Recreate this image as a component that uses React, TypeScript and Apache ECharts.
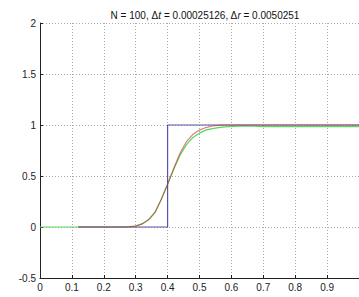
import React, { useEffect, useRef } from "react";
import * as echarts from "echarts";

const titleParts = ["N = 100, Δ", "t", " = 0.00025126, Δ", "r", " = 0.0050251"];
const xTicks = [0, 0.1, 0.2, 0.3, 0.4, 0.5, 0.6, 0.7, 0.8, 0.9, 1];
const yTicks = [-0.5, 0, 0.5, 1, 1.5, 2];

const exactX = [0.12, 0.4, 0.4, 1.0];
const exactY = [0, 0, 1, 1];

const redX = [0.12, 0.25, 0.28, 0.3, 0.32, 0.34, 0.36, 0.38, 0.4, 0.42, 0.44, 0.46, 0.48, 0.5, 0.52, 0.54, 0.56, 0.58, 0.6, 1.0];
const redY = [0, 0, 0.002, 0.008, 0.03, 0.07, 0.14, 0.27, 0.42, 0.58, 0.73, 0.84, 0.91, 0.95, 0.975, 0.99, 0.997, 1, 1, 1];

const greenX = [0, 0.25, 0.28, 0.3, 0.32, 0.34, 0.36, 0.38, 0.4, 0.42, 0.44, 0.46, 0.48, 0.5, 0.52, 0.54, 0.56, 0.58, 0.62, 0.66, 0.7, 1.0];
const greenY = [0, 0, 0.003, 0.01, 0.03, 0.07, 0.14, 0.27, 0.42, 0.57, 0.71, 0.81, 0.88, 0.92, 0.95, 0.965, 0.975, 0.982, 0.988, 0.99, 0.985, 0.985];

const zip = (xs: number[], ys: number[]) => xs.map((x, i) => [x, ys[i]]);

export default function App() {
  const ref = useRef<HTMLDivElement>(null);
  useEffect(() => {
    if (!ref.current) return;
    const chart = echarts.init(ref.current, undefined, { renderer: "svg" });
    const font = "Arial, 'Liberation Sans', sans-serif";
    chart.setOption({
      animation: false,
      backgroundColor: "#ffffff",
      title: {
        text: `${titleParts[0]}{i|${titleParts[1]}}${titleParts[2]}{i|${titleParts[3]}}${titleParts[4]}`,
        left: 200,
        textAlign: "center",
        top: 5,
        textStyle: {
          fontSize: 10,
          fontWeight: "normal",
          color: "#111",
          fontFamily: font,
          rich: { i: { fontStyle: "italic", fontSize: 10, color: "#111", fontFamily: font } },
        },
      },
      grid: { left: 40, top: 23, right: -2, bottom: 19, containLabel: false },
      xAxis: {
        type: "value",
        min: xTicks[0],
        max: xTicks[xTicks.length - 1],
        interval: 0.1,
        axisLine: { show: true, onZero: false, lineStyle: { color: "#222", width: 1 } },
        axisTick: { show: true, inside: true, length: 3, lineStyle: { color: "#222" } },
        axisLabel: { fontSize: 10, color: "#222", fontFamily: font, margin: 4, showMaxLabel: false },
        splitLine: { show: true, lineStyle: { color: "#aaa", type: [1, 2], width: 1 } },
      },
      yAxis: {
        type: "value",
        min: yTicks[0],
        max: yTicks[yTicks.length - 1],
        interval: 0.5,
        axisLine: { show: true, onZero: false, lineStyle: { color: "#222", width: 1 } },
        axisTick: { show: true, inside: true, length: 3, lineStyle: { color: "#222" } },
        axisLabel: { fontSize: 10, color: "#222", fontFamily: font, margin: 4 },
        splitLine: { show: true, lineStyle: { color: "#aaa", type: [1, 2], width: 1 } },
      },
      series: [
        {
          type: "line",
          data: zip(greenX, greenY),
          showSymbol: false,
          lineStyle: { color: "#5cd65c", width: 1.2 },
        },
        {
          type: "line",
          data: zip(exactX, exactY),
          showSymbol: false,
          lineStyle: { color: "#5555a8", width: 1.2 },
        },
        {
          type: "line",
          data: zip(redX, redY),
          showSymbol: false,
          lineStyle: { color: "#c03a3a", width: 1.2, opacity: 0.65 },
        },
      ],
    });
    return () => chart.dispose();
  }, []);
  return (
    <div
      ref={ref}
      style={{ position: "absolute", left: 0, top: 0, width: 359, height: 297 }}
    />
  );
}
